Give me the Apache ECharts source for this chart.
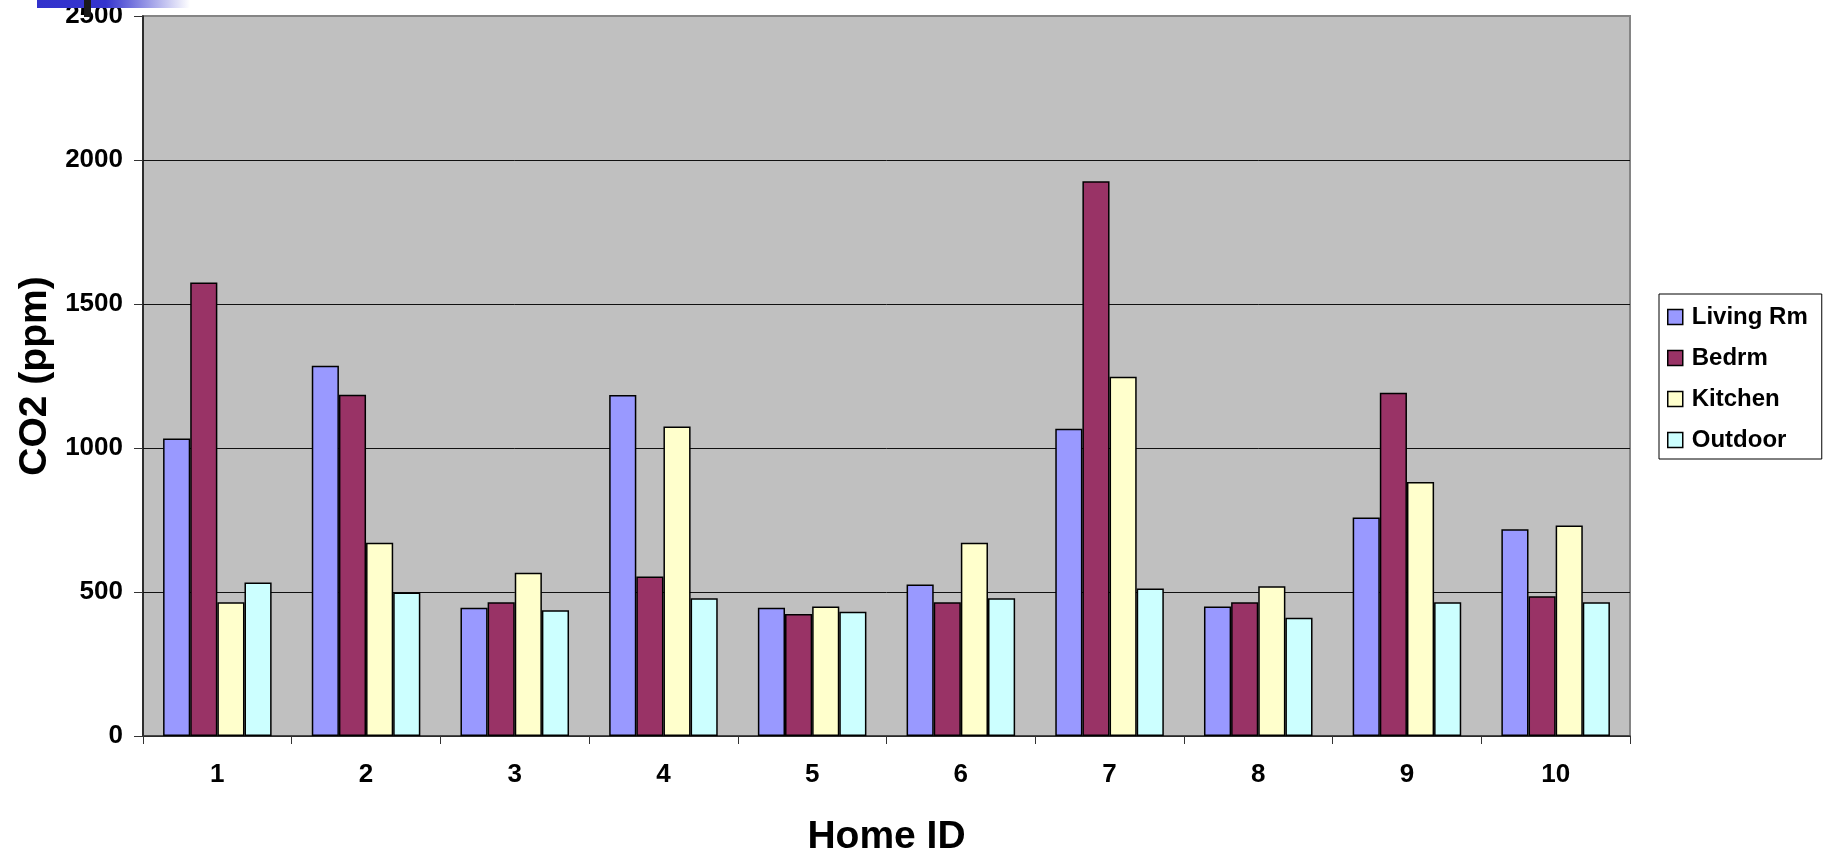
<!DOCTYPE html>
<html>
<head>
<meta charset="utf-8">
<script src="https://cdn.jsdelivr.net/npm/echarts@6/dist/echarts.min.js"></script>
<style>
html,body{margin:0;padding:0;background:#fff;}
#chart{width:1839px;height:851px;}
</style>
</head>
<body>
<div id="chart"></div>
<script>
const categories = ['1','2','3','4','5','6','7','8','9','10'];
const seriesNames = ['Living Rm','Bedrm','Kitchen','Outdoor'];
const livingRm = [1033, 1286, 445, 1184, 445, 526, 1067, 450, 759, 718];
const bedrm    = [1575, 1185, 464, 554, 424, 464, 1926, 464, 1192, 485];
const kitchen  = [464, 671, 567, 1075, 450, 671, 1247, 520, 882, 731];
const outdoor  = [533, 498, 437, 478, 431, 478, 512, 411, 464, 464];
const yTicks = [0, 500, 1000, 1500, 2000, 2500];

const colors = ['#9999FF','#993366','#FFFFCC','#CCFFFF'];
const FONT = "'Liberation Sans', Arial, sans-serif";
const chart = echarts.init(document.getElementById('chart'), null, {renderer:'canvas'});

function bar(name, data, color){
  return {
    name: name, type: 'bar', data: data,
    barGap: '0%', barCategoryGap: '27%',
    itemStyle: {color: color, borderColor: '#000', borderWidth: 1.5},
    emphasis: {disabled: true},
    animation: false
  };
}

chart.setOption({
  animation: false,
  textStyle: {fontFamily: FONT},
  grid: {left: 143, top: 16, width: 1487, height: 720, show: true,
         outerBoundsMode: 'none', containLabel: false,
         backgroundColor: '#C0C0C0', borderColor: '#858585', borderWidth: 2},
  legend: {
    orient: 'vertical', left: 1659, top: 294,
    padding: [11, 14, 7, 8],
    itemWidth: 15, itemHeight: 15, itemGap: 17,
    backgroundColor: '#fff', borderColor: '#000', borderWidth: 1,
    data: seriesNames.map(n => ({name: n, icon: 'rect'})),
    itemStyle: {borderColor: '#000', borderWidth: 1.5},
    textStyle: {fontSize: 24, fontWeight: 'bold', color: '#000', fontFamily: FONT, padding: [0,0,0,4]},
    selectedMode: false
  },
  xAxis: {
    type: 'category', data: categories,
    name: 'Home ID', nameLocation: 'middle', nameGap: 82,
    nameTextStyle: {fontSize: 39, fontWeight: 'bold', color: '#000', fontFamily: FONT},
    axisLine: {show: true, lineStyle: {color: '#333', width: 1.5}},
    axisTick: {show: true, length: 8, inside: false, alignWithLabel: false, lineStyle: {color: '#333', width: 1}},
    axisLabel: {fontSize: 26, fontWeight: 'bold', color: '#000', margin: 26, fontFamily: FONT},
    splitLine: {show: false}
  },
  yAxis: {
    type: 'value', min: yTicks[0], max: yTicks[yTicks.length-1], interval: 500,
    name: 'CO2 (ppm)', nameLocation: 'middle', nameGap: 88, nameRotate: 90,
    nameTextStyle: {fontSize: 39, fontWeight: 'bold', color: '#000', fontFamily: FONT},
    axisLine: {show: true, lineStyle: {color: '#111', width: 1.5}},
    axisTick: {show: true, length: 9, inside: false, lineStyle: {color: '#333', width: 1}},
    axisLabel: {fontSize: 26, fontWeight: 'bold', color: '#000', margin: 20, fontFamily: FONT,
                formatter: v => String(v)},
    splitLine: {show: true, showMaxLine: false, lineStyle: {color: '#111', width: 1}}
  },
  graphic: [
    {type: 'rect', left: 37, top: 0, z: 100,
     shape: {width: 153, height: 8},
     style: {fill: new echarts.graphic.LinearGradient(0,0,1,0,[
       {offset:0,color:'#3232CC'},{offset:0.45,color:'#3535CE'},{offset:1,color:'rgba(255,255,255,1)'}])}},
    {type: 'rect', left: 84, top: 0, z: 101,
     shape: {width: 7, height: 17}, style: {fill: '#1a1a1a'}}
  ],
  series: [
    bar(seriesNames[0], livingRm, colors[0]),
    bar(seriesNames[1], bedrm, colors[1]),
    bar(seriesNames[2], kitchen, colors[2]),
    bar(seriesNames[3], outdoor, colors[3])
  ]
});
</script>
</body>
</html>
